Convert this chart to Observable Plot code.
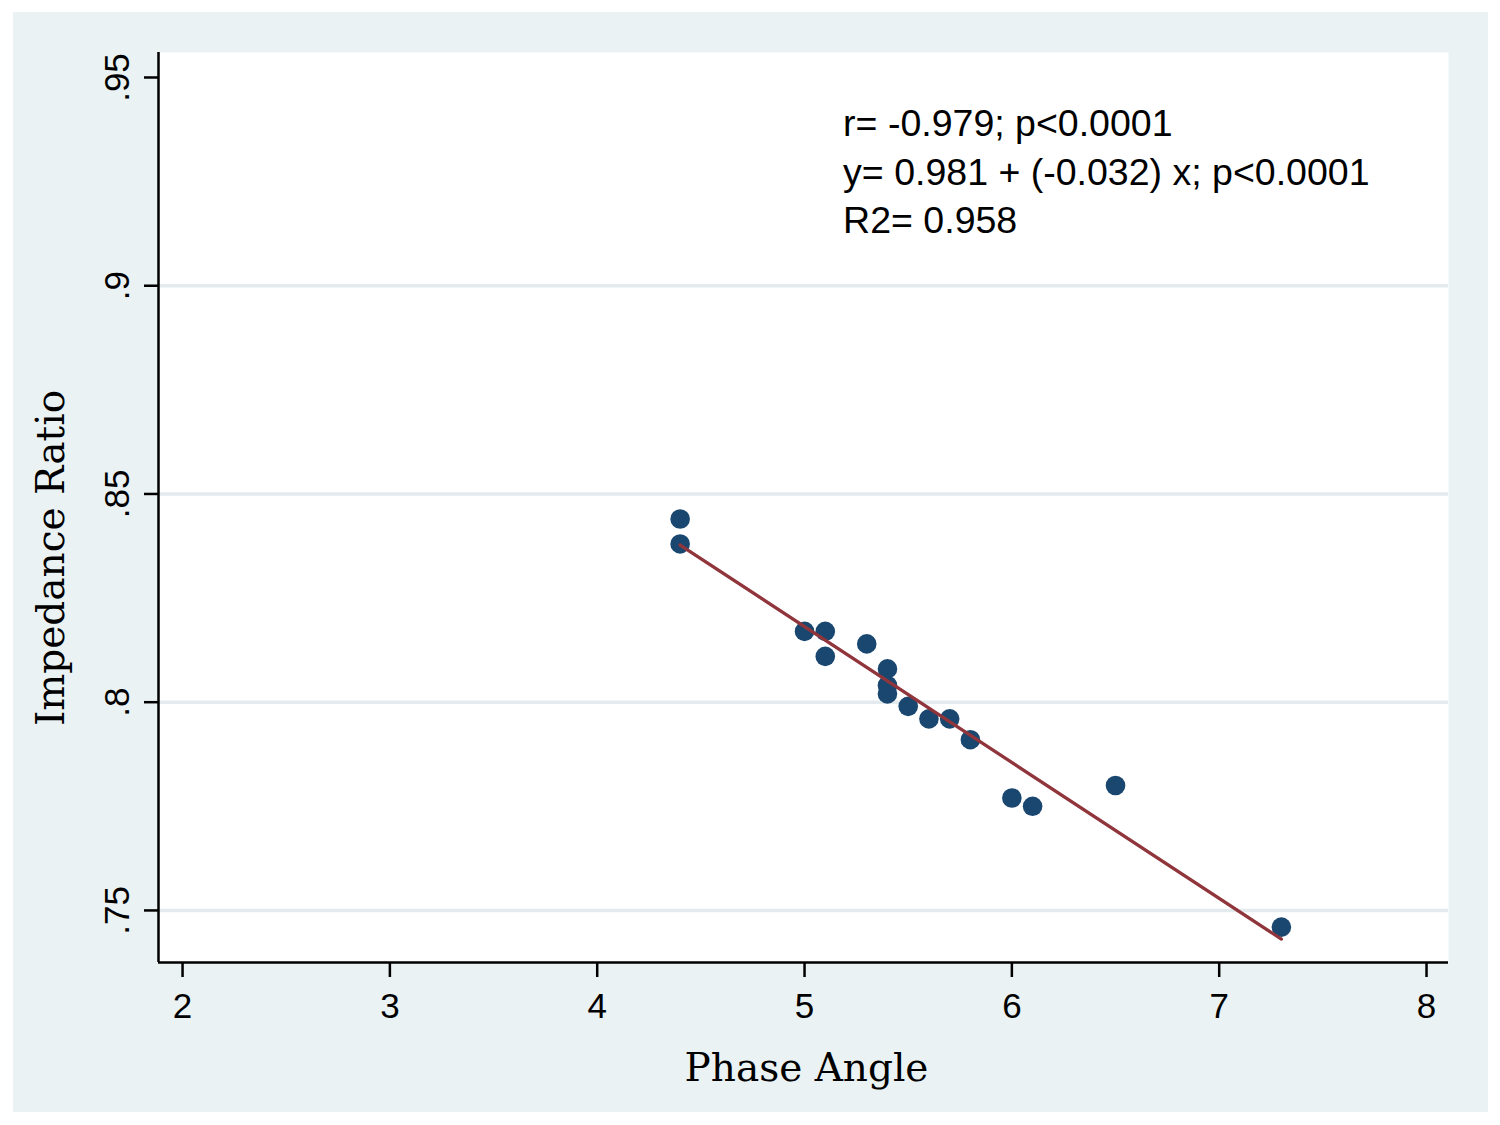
<!DOCTYPE html>
<html>
<head>
<meta charset="utf-8">
<script src="https://cdn.jsdelivr.net/npm/d3@7"></script>
<script src="https://cdn.jsdelivr.net/npm/@observablehq/plot@0.6"></script>
<style>
  html, body { margin: 0; padding: 0; background: #ffffff; }
  #wrap { position: relative; width: 1500px; height: 1125px; }
  #panel { position: absolute; left: 13px; top: 12px; width: 1475px; height: 1100px; background: #eaf2f3; }
  #chart { position: absolute; left: 0; top: 0; }
  #chart svg { background: transparent !important; }
</style>
</head>
<body>
<div id="wrap"><div id="panel"></div><div id="chart"></div></div>
<script>
// Data
const phaseAngle = [4.4, 4.4, 5.0, 5.1, 5.1, 5.3, 5.4, 5.4, 5.4, 5.5, 5.6, 5.7, 5.8, 6.0, 6.1, 6.5, 7.3];
const impedanceRatio = [0.844, 0.838, 0.817, 0.817, 0.811, 0.814, 0.808, 0.804, 0.802, 0.799, 0.796, 0.796, 0.791, 0.777, 0.775, 0.780, 0.746];
const xTicks = [2, 3, 4, 5, 6, 7, 8];
const yTicks = [0.75, 0.80, 0.85, 0.90, 0.95];
const gridTicks = [0.75, 0.80, 0.85, 0.90];
const xDomain = [1.884, 8.106];
const yDomain = [0.7375, 0.956];
const xTitle = "Phase Angle";
const yTitle = "Impedance Ratio";
const annotationLines = ["r= -0.979; p<0.0001", "y= 0.981 + (-0.032) x; p<0.0001", "R2= 0.958"];
const annotationAt = {x: 5.186, y: 0.9443};

const data = phaseAngle.map((x, i) => ({x, y: impedanceRatio[i]}));
const fmtY = d => String(+d.toFixed(2)).replace(/^0/, "");

const plot = Plot.plot({
  width: 1500,
  height: 1125,
  marginLeft: 158,
  marginRight: 52,
  marginTop: 52,
  marginBottom: 163,
  style: {background: "transparent", fontFamily: "'Liberation Sans', Arial, sans-serif", fontSize: "35px", color: "#000"},
  x: {domain: xDomain},
  y: {domain: yDomain},
  marks: [
    Plot.frame({fill: "white", stroke: null}),
    Plot.gridY(gridTicks, {stroke: "#e3ebee", strokeOpacity: 1, strokeWidth: 3.5}),
    Plot.axisX(xTicks, {tickSize: 15, tickPadding: 16, strokeWidth: 2.5, label: null, tickFormat: d => String(d)}),
    Plot.axisY(yTicks, {tickSize: 14, strokeWidth: 2.5, label: null, tickFormat: () => ""}),
    Plot.text(yTicks, {y: d => d, frameAnchor: "left", text: fmtY, rotate: -90, textAnchor: "middle", lineAnchor: "bottom", dx: -30, fontSize: 35}),
    Plot.ruleY([yDomain[0]], {stroke: "black", strokeWidth: 2.5}),
    Plot.ruleX([xDomain[0]], {stroke: "black", strokeWidth: 2.5}),
    Plot.dot(data, {x: "x", y: "y", r: 9.8, fill: "#1a476f", stroke: null}),
    Plot.linearRegressionY(data, {x: "x", y: "y", stroke: "#90353b", strokeWidth: 3.3, ci: 0}),
    Plot.text([annotationLines.join("\n")], {x: () => annotationAt.x, y: () => annotationAt.y, text: d => d, textAnchor: "start", lineAnchor: "top", lineHeight: 1.3, fontSize: 37.5}),
    Plot.text([xTitle], {frameAnchor: "bottom", text: d => d, lineAnchor: "bottom", dy: 118, dx: 3, fontSize: 39, fontFamily: "'DejaVu Serif', serif"}),
    Plot.text([yTitle], {frameAnchor: "left", text: d => d, rotate: -90, lineAnchor: "bottom", textAnchor: "middle", dx: -95, dy: 50.5, fontSize: 39, fontFamily: "'DejaVu Serif', serif"})
  ]
});
document.getElementById("chart").appendChild(plot);
</script>
</body>
</html>
